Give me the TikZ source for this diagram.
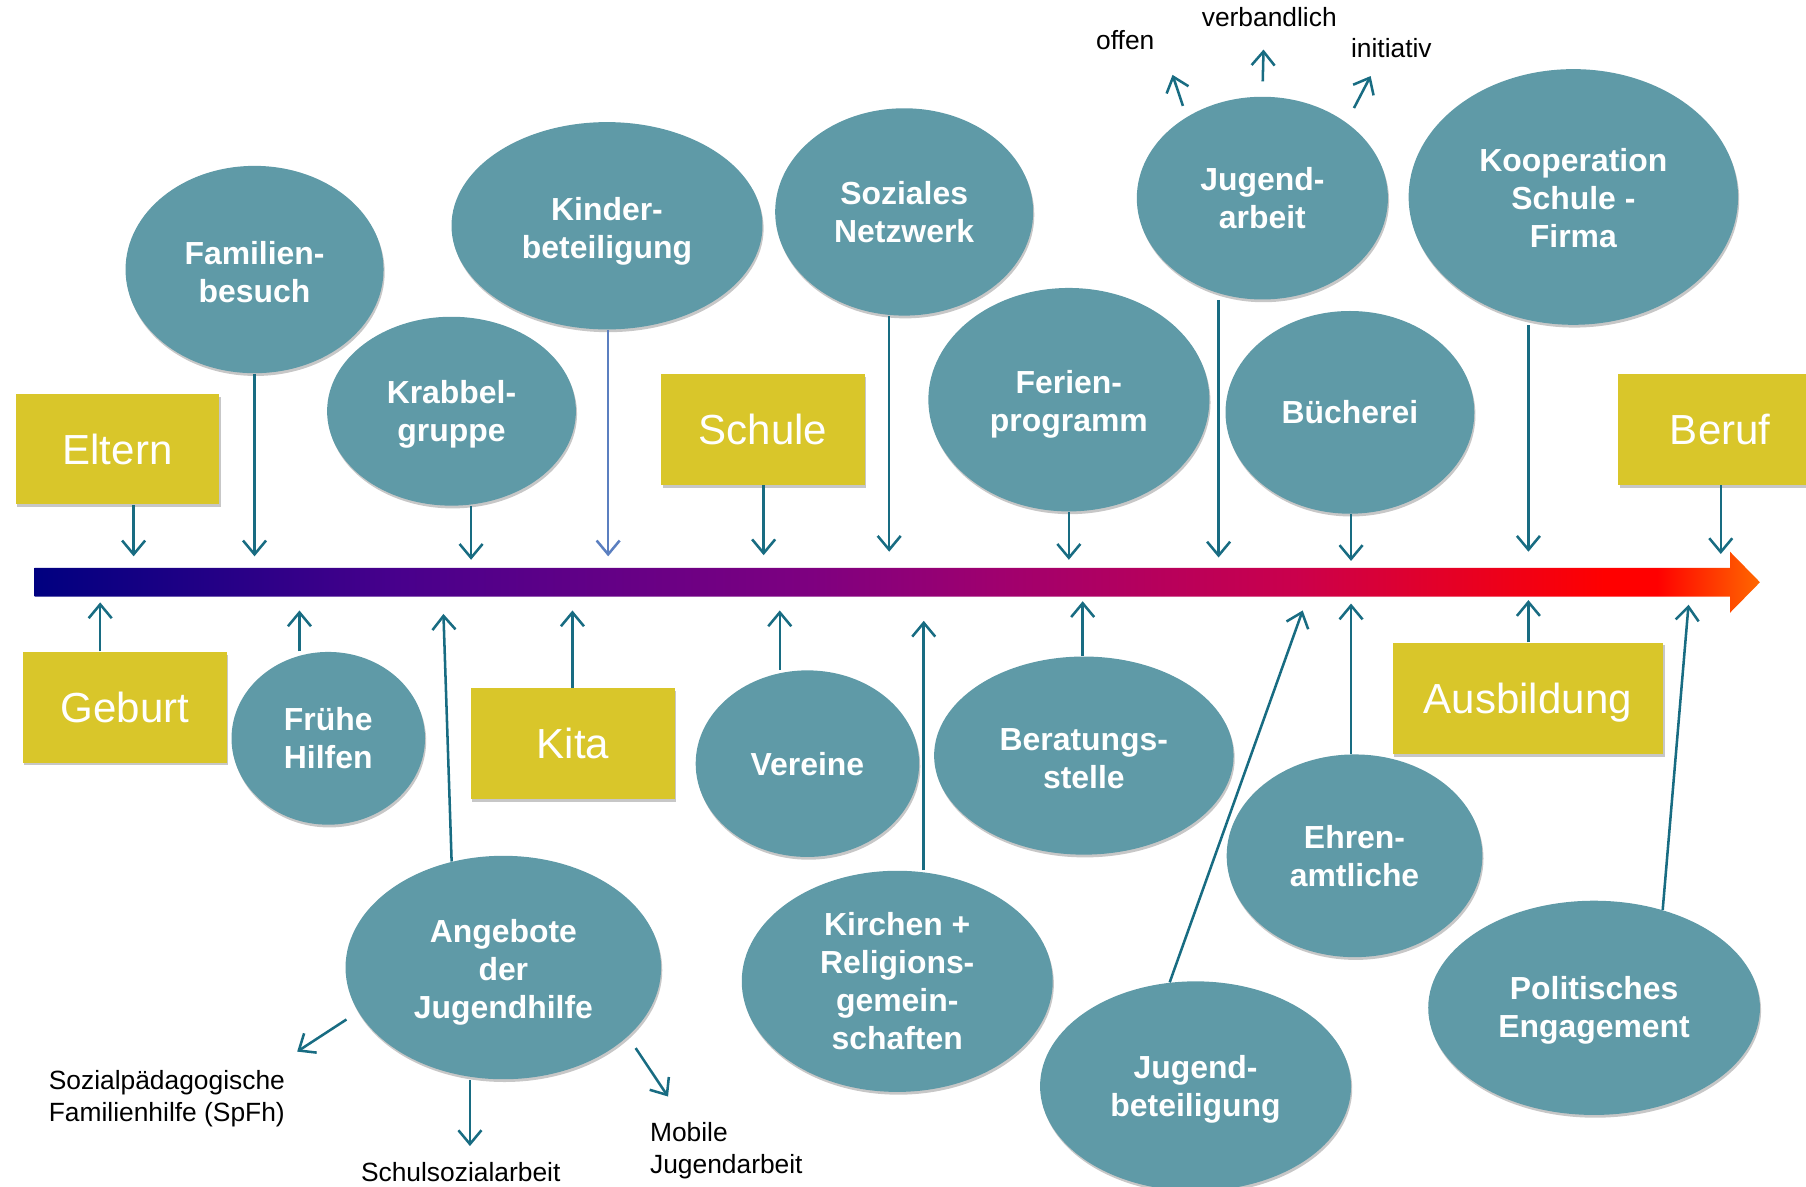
\documentclass[tikz,border=0pt]{standalone}
\usepackage{fontspec}
\setmainfont{Liberation Sans}
\usetikzlibrary{shapes.geometric,arrows.meta,shadows}
\definecolor{ellcol}{RGB}{95,154,167}
\definecolor{boxcol}{RGB}{217,198,42}
\definecolor{arrcol}{RGB}{24,108,130}
\definecolor{arrblue}{RGB}{91,127,192}
\definecolor{g0}{RGB}{0,0,128}
\definecolor{g1}{RGB}{72,0,140}
\definecolor{g2}{RGB}{126,0,128}
\definecolor{g3}{RGB}{160,0,110}
\definecolor{g4}{RGB}{202,0,76}
\definecolor{g5}{RGB}{255,0,0}
\definecolor{g6}{RGB}{255,104,0}
\pgfdeclarehorizontalshading{timeline}{100bp}{color(0bp)=(g0); color(25bp)=(g0); color(35.5bp)=(g1); color(47.5bp)=(g2); color(53bp)=(g3); color(61.5bp)=(g4); color(70.5bp)=(g5); color(72bp)=(g5); color(75bp)=(g6); color(100bp)=(g6)}
\newcommand{\tdn}[1]{\rule{0pt}{#1pt}}
\tikzset{
  ell/.style={ellipse, fill=ellcol, text=white, align=center, inner sep=0pt,
    font=\bfseries\fontsize{13.85}{16.5}\selectfont,
    drop shadow={opacity=0.22, shadow xshift=0.5pt, shadow yshift=-1.2pt, fill=black}},
  esz/.style 2 args={minimum width=#1pt, minimum height=#2pt},
  ybox/.style={rectangle, fill=boxcol, text=white, inner sep=0pt,
    font=\fontsize{18.25}{22}\selectfont, text height=13.1pt, text depth=0pt,
    minimum width=88.5pt, minimum height=48pt,
    drop shadow={opacity=0.22, shadow xshift=0.6pt, shadow yshift=-1.2pt, fill=black}},
  lbl/.style={font=\fontsize{11.45}{14}\selectfont, text=black, inner sep=0pt},
  conn/.style={draw=arrcol, line width=1.1pt, -{Straight Barb[length=6pt,width=10pt]}},
}
\begin{document}
\begin{tikzpicture}[x=0.5pt,y=-0.5pt]
\useasboundingbox (0,0) rectangle (1568,1030);
\clip (0,0) rectangle (1568,1030);

% timeline bar
\shade[shading=timeline] (30,493) -- (1502,493) -- (1502,479) -- (1528,505.5) -- (1502,532) -- (1502,518) -- (30,518) -- cycle;

% yellow boxes
\node[ybox] (el) at (102,390) {Eltern};
\node[ybox] (gb) at (108.5,614) {Geburt};
\node[ybox] (sc) at (662.5,373) {Schule};
\node[ybox] (kt) at (497.5,645.5) {Kita};
\node[ybox, minimum width=117.5pt, minimum height=48.5pt] (au) at (1326.5,606.5) {Ausbildung};
\node[ybox] (be) at (1493.5,373) {Beruf};

% ellipses
\node[ell, esz={112}{90}] (fb) at (221,234) {\tdn{12.1}Familien-\\besuch};
\node[ell, esz={108}{82}] (kg) at (392,357) {\tdn{13.1}Krabbel-\\gruppe};
\node[ell, esz={135}{90}] (kb) at (527,196) {\tdn{15.1}Kinder-\\beteiligung};
\node[ell, esz={112}{90}] (sn) at (785,184) {Soziales\\Netzwerk};
\node[ell, esz={122}{97}] (fp) at (928,347) {\tdn{14.1}Ferien-\\programm};
\node[ell, esz={109}{88}] (ja) at (1096,172) {Jugend-\\arbeit};
\node[ell, esz={108}{88}] (bu) at (1172,358) {Bücherei};
\node[ell, esz={143}{111}] (ko) at (1366,171) {\tdn{11.1}Kooperation\\Schule -\\Firma};
\node[ell, esz={84}{75}] (fh) at (285,641) {Frühe\\Hilfen};
\node[ell, esz={97}{81}] (ve) at (701,663) {Vereine};
\node[ell, esz={130}{86}] (bs) at (941,656) {\tdn{12.1}Beratungs-\\stelle};
\node[ell, esz={137}{97}] (ad) at (437,840) {\tdn{14.1}Angebote\\der\\Jugendhilfe};
\node[ell, esz={135}{96}] (kr) at (779,852) {Kirchen +\\Religions-\\gemein-\\schaften};
\node[ell, esz={135}{91}] (jb) at (1038,943) {\tdn{13.1}Jugend-\\beteiligung};
\node[ell, esz={111}{88}] (ea) at (1176,743) {Ehren-\\amtliche};
\node[ell, esz={144}{93}] (pe) at (1384,875) {\tdn{12.1}Politisches\\Engagement};

% labels
\node[lbl] (lof) at (977,35) {offen};
\node[lbl] (lvb) at (1102,15) {verbandlich};
\node[lbl] (lin) at (1208,42) {initiativ};
\node[lbl, anchor=west, align=left] (lsp) at (42,954) {Sozialpädagogische\\Familienhilfe (SpFh)};
\node[lbl] (lss) at (400,1018) {Schulsozialarbeit};
\node[lbl, anchor=west, align=left] (lmj) at (564,999) {Mobile\\Jugendarbeit};

% arrow end coordinates on the bar
\coordinate (tEL) at (116,483);
\coordinate (tFB) at (221,483);
\coordinate (tKG) at (409,486);
\coordinate (tKB) at (528,483);
\coordinate (tSC) at (663,482);
\coordinate (tSN) at (772,479);
\coordinate (tFP) at (928,486);
\coordinate (tJA) at (1058,484);
\coordinate (tBU) at (1173,487);
\coordinate (tKO) at (1327,479);
\coordinate (tBE) at (1494,481);
\coordinate (tGB) at (87,523);
\coordinate (tFH) at (260,530);
\coordinate (tAD) at (385,533);
\coordinate (tKT) at (497,530);
\coordinate (tVE) at (677,530);
\coordinate (tKR) at (802,539);
\coordinate (tBS) at (940,522);
\coordinate (tJB) at (1131,530);
\coordinate (tEA) at (1173,524);
\coordinate (tAU) at (1327,521);
\coordinate (tPE) at (1466,525);
\coordinate (tOF) at (1018,65);
\coordinate (tVB) at (1097,43);
\coordinate (tIN) at (1190,66);
\coordinate (tSP) at (258,913);
\coordinate (tSS) at (408,995);
\coordinate (tMJ) at (580,952);

% arrows from above
\draw[conn] (el.south -| tEL) -- (tEL);
\draw[conn] (fb.south -| tFB) -- (tFB);
\draw[conn] (kg.south -| tKG) -- (tKG);
\draw[conn, draw=arrblue] (kb.south -| tKB) -- (tKB);
\draw[conn] (sc.south -| tSC) -- (tSC);
\draw[conn] (sn.south -| tSN) -- (tSN);
\draw[conn] (fp.south -| tFP) -- (tFP);
\draw[conn] (ja.south -| tJA) -- (tJA);
\draw[conn] (bu.south -| tBU) -- (tBU);
\draw[conn] (ko.south -| tKO) -- (tKO);
\draw[conn] (be.south -| tBE) -- (tBE);

% arrows from below
\draw[conn] (gb.north -| tGB) -- (tGB);
\draw[conn] (fh.north -| tFH) -- (tFH);
\draw[conn] (ad.116) -- (tAD);
\draw[conn] (kt.north -| tKT) -- (tKT);
\draw[conn] (ve.north -| tVE) -- (tVE);
\draw[conn] (kr.north -| tKR) -- (tKR);
\draw[conn] (bs.north -| tBS) -- (tBS);
\draw[conn] (jb.104) -- (tJB);
\draw[conn] (ea.north -| tEA) -- (tEA);
\draw[conn] (au.north -| tAU) -- (tAU);
\draw[conn] (pe.55) -- (tPE);

% Jugendarbeit branches
\draw[conn, shorten <=5pt] (ja.133) -- (tOF);
\draw[conn, shorten <=6.5pt] (ja.north) -- (tVB);
\draw[conn, shorten <=7pt] (ja.42) -- (tIN);

% Angebote der Jugendhilfe branches
\draw[conn, shorten <=6pt] (ad.197) -- (tSP);
\draw[conn] (ad.south -| tSS) -- (tSS);
\draw[conn, shorten <=6pt] (ad.331) -- (tMJ);
\end{tikzpicture}
\end{document}
